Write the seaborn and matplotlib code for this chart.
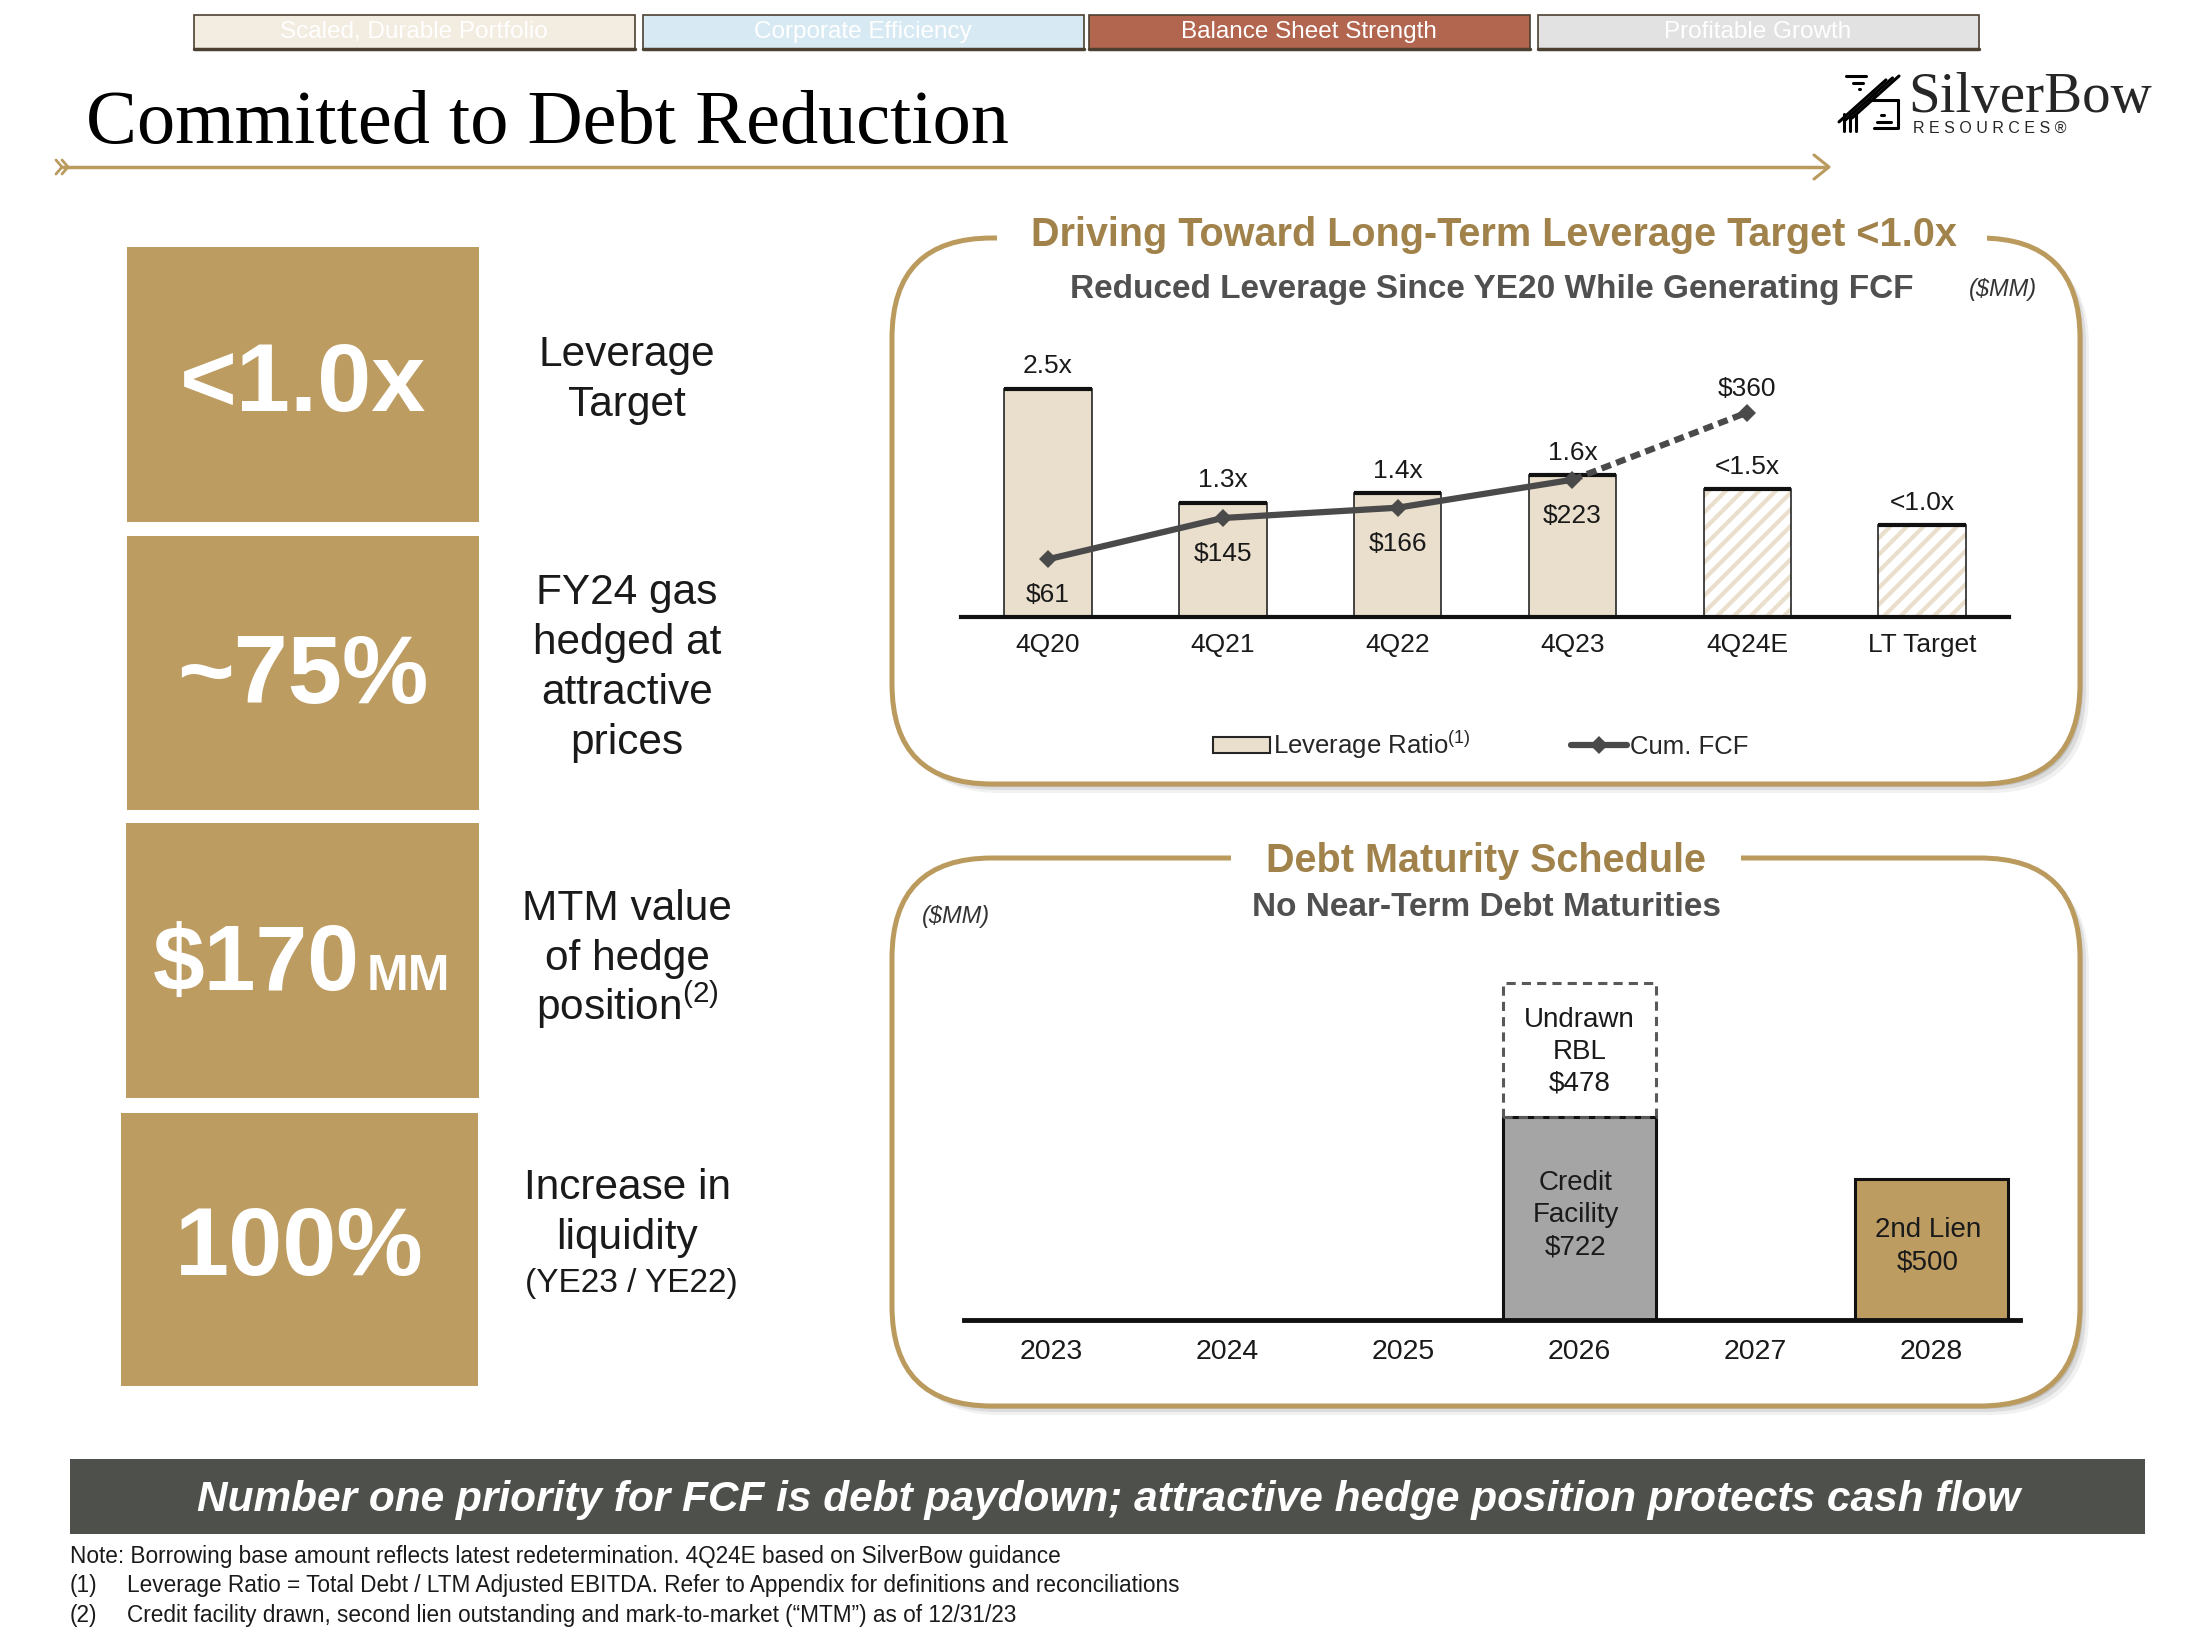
import matplotlib
matplotlib.use('Agg')
import matplotlib.pyplot as plt
from matplotlib.patches import Rectangle, FancyBboxPatch, Patch
from matplotlib.lines import Line2D
import numpy as np
import pandas as pd
import seaborn as sns

# ---- data ----
tab_names = ['Scaled, Durable Portfolio', 'Corporate Efficiency', 'Balance Sheet Strength', 'Profitable Growth']
tab_colors = ['#F3ECE1', '#D7EAF4', '#B3664F', '#E2E2E2']

stat_values = ['<1.0x', '~75%', '$170', '100%']
stat_desc = [['Leverage', 'Target'],
             ['FY24 gas', 'hedged at', 'attractive', 'prices'],
             ['MTM value', 'of hedge', 'position$^{(2)}$'],
             ['Increase in', 'liquidity']]

periods = ['4Q20', '4Q21', '4Q22', '4Q23', '4Q24E', 'LT Target']
leverage = [2.5, 1.25, 1.35, 1.55, 1.4, 1.0]
leverage_labels = ['2.5x', '1.3x', '1.4x', '1.6x', '<1.5x', '<1.0x']
is_estimate = [False, False, False, False, True, True]
cum_fcf = [61, 145, 166, 223, 360]
fcf_labels = ['$61', '$145', '$166', '$223', '$360']

years = ['2023', '2024', '2025', '2026', '2027', '2028']
drawn = [0, 0, 0, 722, 0, 500]
undrawn = [0, 0, 0, 478, 0, 0]
drawn_labels = ['', '', '', 'Credit\nFacility\n$722', '', '2nd Lien\n$500']
undrawn_labels = ['', '', '', 'Undrawn\nRBL\n$478', '', '']
drawn_colors = ['#A5A5A5', '#A5A5A5', '#A5A5A5', '#A5A5A5', '#BD9C62', '#BD9C62']

footnotes = ['Note: Borrowing base amount reflects latest redetermination. 4Q24E based on SilverBow guidance',
             'Leverage Ratio = Total Debt / LTM Adjusted EBITDA. Refer to Appendix for definitions and reconciliations',
             'Credit facility drawn, second lien outstanding and mark-to-market (\u201cMTM\u201d) as of 12/31/23']

GOLD = '#BD9C62'
GOLD_LINE = '#BB9A5E'
GOLD_TEXT = '#A0824A'
BEIGE = '#E9DFCC'
DARK = '#4A4A4A'
INK = '#1A1A1A'

sns.set_style('white')
plt.rcParams['font.family'] = ['Liberation Sans', 'DejaVu Sans']
plt.rcParams['mathtext.fontset'] = 'custom'
plt.rcParams['mathtext.rm'] = 'Liberation Sans'
plt.rcParams['mathtext.default'] = 'regular'
plt.rcParams['hatch.linewidth'] = 3.0

W, H = 2200, 1643
fig = plt.figure(figsize=(22, 16.43), dpi=100)
deco = fig.add_axes([0, 0, 1, 1], zorder=0)
deco.set_xlim(0, W)
deco.set_ylim(H, 0)
deco.axis('off')

# ---- header tabs ----
tab_x = [194, 643, 1089, 1538]
for x0, name, col in zip(tab_x, tab_names, tab_colors):
    deco.add_patch(Rectangle((x0, 15), 441, 34, fc=col, ec='#4C4030', lw=1.2))
    deco.plot([x0, x0 + 441], [49, 49], color='#4C4030', lw=2.5)
    deco.text(x0 + 220, 32, name, ha='center', va='center', color='white', fontsize=17.5)

deco.text(86, 143, 'Committed to Debt Reduction', family='Liberation Serif', fontsize=55,
          va='baseline', color='black')
deco.plot([62, 1828], [167, 167], color=GOLD_LINE, lw=2.5, solid_capstyle='butt')
deco.plot([1814, 1829, 1814], [155, 167, 179], color=GOLD_LINE, lw=2.2)
deco.plot([56, 62, 56], [160, 167, 174], color=GOLD_LINE, lw=2)
deco.plot([62, 68, 62], [160, 167, 174], color=GOLD_LINE, lw=2)

# logo
deco.text(1908, 112, 'SilverBow', family='Liberation Serif', fontsize=41, va='baseline')
deco.text(1913, 133, 'R E S O U R C E S \u00ae', fontsize=11.5, va='baseline')
for k in range(3):
    d = k * 6.5
    deco.plot([1866 - d * 0.5, 1846 + d], [76 + d, 76 + d], color='black', lw=2.2)
    deco.plot([1899 - d, 1852 - d], [76 + d * 0.3, 118 + d * 0.3], color='black', lw=2.2)
    deco.plot([1874 + d * 0.5, 1897 - d], [128 - d, 128 - d], color='black', lw=2.2)
for xv in [1844, 1850, 1856]:
    deco.plot([xv, xv], [114, 131], color='black', lw=2.2)
deco.plot([1868, 1898], [100, 100], color='black', lw=2.2)
deco.plot([1898, 1898], [100, 128], color='black', lw=2.2)

# ---- left stat boxes ----
box_rects = [(127, 247, 352, 275), (127, 536, 352, 274), (126, 823, 353, 275), (121, 1113, 357, 273)]
value_base = [411, 703, 990, 1275]
desc_base = [366, 604, 920, 1199]
for (bx, by, bw, bh), val, vb, desc, db in zip(box_rects, stat_values, value_base, stat_desc, desc_base):
    deco.add_patch(Rectangle((bx, by), bw, bh, fc=GOLD, ec='none'))
    if val == '$170':
        deco.text(360, vb, val, ha='right', va='baseline', color='white', fontsize=67, weight='bold')
        deco.text(367, vb, 'MM', ha='left', va='baseline', color='white', fontsize=36, weight='bold')
    else:
        deco.text(bx + bw / 2, vb, val, ha='center', va='baseline', color='white', fontsize=70, weight='bold')
    for i, line in enumerate(desc):
        deco.text(627, db + i * 50, line, ha='center', va='baseline', color=INK, fontsize=30.5)
deco.text(631, 1292, '(YE23 / YE22)', ha='center', va='baseline', color=INK, fontsize=24)

# ---- panels ----
for (px, py, pw, ph), (g0, g1) in zip([(892, 238, 1188, 546), (892, 858, 1188, 548)],
                                      [(997, 1987), (1231, 1741)]):
    for s, a in [(9, 0.12), (6, 0.2), (3, 0.3)]:
        deco.add_patch(FancyBboxPatch((px + s, py + s), pw, ph, boxstyle='round,pad=0,rounding_size=100',
                                      fc='#8C8C8C', ec='none', alpha=a))
    deco.add_patch(FancyBboxPatch((px, py), pw, ph, boxstyle='round,pad=0,rounding_size=100',
                                  fc='white', ec=GOLD_LINE, lw=3.6))
    deco.add_patch(Rectangle((g0, py - 10), g1 - g0, 20, fc='white', ec='none'))

deco.text(1494, 246, 'Driving Toward Long-Term Leverage Target <1.0x', ha='center', va='baseline',
          color=GOLD_TEXT, fontsize=28.5, weight='bold')
deco.text(1492, 298, 'Reduced Leverage Since YE20 While Generating FCF', ha='center', va='baseline',
          color='#505050', fontsize=24, weight='bold')
deco.text(2003, 296, '($MM)', ha='center', va='baseline', color='#333333', fontsize=17, style='italic')

deco.text(1486, 872, 'Debt Maturity Schedule', ha='center', va='baseline',
          color=GOLD_TEXT, fontsize=28.5, weight='bold')
deco.text(1486, 916, 'No Near-Term Debt Maturities', ha='center', va='baseline',
          color='#505050', fontsize=24, weight='bold')
deco.text(956, 923, '($MM)', ha='center', va='baseline', color='#333333', fontsize=17, style='italic')

# ---- leverage chart ----
ax1 = fig.add_axes([960.6 / W, 1 - 616.5 / H, 1048.8 / W, 286 / H], zorder=2)
ax1.set_facecolor('none')
lev_df = pd.DataFrame({'period': periods, 'leverage': leverage})
sns.barplot(data=lev_df, x='period', y='leverage', ax=ax1, color=BEIGE, width=0.5,
            edgecolor='#262626', linewidth=1.2, saturation=1)
xpos = np.arange(len(periods))
est = np.array(is_estimate)
lev = np.array(leverage)
for patch, e in zip(ax1.patches, is_estimate):
    if e:
        patch.set_facecolor('white')
        patch.set_edgecolor(BEIGE)
        patch.set_hatch('//')
        patch.set_linewidth(0)
ax1.bar(xpos[est], lev[est], width=0.5, fill=False, edgecolor='#262626', linewidth=1.2)
ax1.hlines(lev, xpos - 0.25, xpos + 0.25, color='#111111', lw=3)
for xi, v, lab in zip(xpos, leverage, leverage_labels):
    ax1.annotate(lab, (xi, v), xytext=(0, 11), textcoords='offset points', ha='center',
                 va='baseline', fontsize=19, color=INK)
ax1.set_xlim(-0.5, 5.5)
ax1.set_ylim(0, 3.136)
ax1.set_xlabel('')
ax1.set_ylabel('')
ax1.set_yticks([])
ax1.tick_params(axis='x', length=0, labelsize=19, pad=12, labelcolor=INK)
for side in ['top', 'left', 'right']:
    ax1.spines[side].set_visible(False)
ax1.spines['bottom'].set_linewidth(3)
ax1.spines['bottom'].set_color('#111111')

ax2 = ax1.twinx()
ax2.set_facecolor('none')
sns.lineplot(x=xpos[:4], y=cum_fcf[:4], ax=ax2, color=DARK, lw=4.5, marker='D', markersize=9,
             markeredgewidth=0)
ax2.plot(xpos[3:5], cum_fcf[3:5], color=DARK, lw=4.5, ls=(0, (1.6, 0.9)))
ax2.plot(xpos[4:5], cum_fcf[4:5], color=DARK, marker='D', markersize=9, markeredgewidth=0, ls='none')
for i, (xi, v, lab) in enumerate(zip(xpos, cum_fcf, fcf_labels)):
    off = 12 if i == len(cum_fcf) - 1 else -31
    ax2.annotate(lab, (xi, v), xytext=(0, off), textcoords='offset points', ha='center',
                 va='baseline', fontsize=19, color=INK)
ax2.set_ylim(-55.7, 527.1)
ax2.set_yticks([])
ax2.set_ylabel('')
for side in ['top', 'left', 'right', 'bottom']:
    ax2.spines[side].set_visible(False)

handles = [Patch(facecolor=BEIGE, edgecolor='#262626', linewidth=1.5),
           Line2D([0], [0], color=DARK, lw=4.5, marker='D', markersize=9, markeredgewidth=0)]
ax2.legend(handles, ['Leverage Ratio$^{(1)}$', 'Cum. FCF'], loc='center', ncol=2, frameon=False,
           bbox_to_anchor=(1481 / W, 1 - 745 / H), bbox_transform=fig.transFigure, fontsize=18.5,
           handlelength=2.2, handleheight=0.6, handletextpad=0.12, columnspacing=3.9)

# ---- debt maturity chart ----
ax3 = fig.add_axes([963.5 / W, 1 - 1320 / H, 1056 / W, 360 / H], zorder=2)
ax3.set_facecolor('none')
mat_df = pd.DataFrame({'year': years, 'drawn': drawn})
sns.barplot(data=mat_df, x='year', y='drawn', hue='year', palette=drawn_colors, legend=False,
            width=0.87, edgecolor='#111111', linewidth=2.2, saturation=1, ax=ax3)
ypos = np.arange(len(years))
dr = np.array(drawn)
ud = np.array(undrawn)
mask = ud > 0
ax3.bar(ypos[mask], ud[mask], bottom=dr[mask], width=0.87, fill=False, edgecolor='#595959',
        linestyle=(0, (3, 2)), linewidth=2.2)
for xi, d, u, dl, ul in zip(ypos, drawn, undrawn, drawn_labels, undrawn_labels):
    if d > 0:
        ax3.text(xi - 0.02, d / 2 + 12, dl, ha='center', va='center', fontsize=20, linespacing=1.3,
                 color=INK)
    if u > 0:
        ax3.text(xi, d + u / 2 - 6, ul, ha='center', va='center', fontsize=20, linespacing=1.3,
                 color=INK)
ax3.set_xlim(-0.5, 5.5)
ax3.set_ylim(0, 1280.7)
ax3.set_xlabel('')
ax3.set_ylabel('')
ax3.set_yticks([])
ax3.tick_params(axis='x', length=0, labelsize=20.5, pad=14, labelcolor=INK)
for side in ['top', 'left', 'right']:
    ax3.spines[side].set_visible(False)
ax3.spines['bottom'].set_linewidth(3.5)
ax3.spines['bottom'].set_color('#111111')

# ---- banner and footnotes ----
deco.add_patch(Rectangle((70, 1459), 2075, 75, fc='#4E504B', ec='none'))
deco.text(1109, 1511, 'Number one priority for FCF is debt paydown; attractive hedge position protects cash flow',
          ha='center', va='baseline', color='white', fontsize=30.5, weight='bold', style='italic')
deco.text(70, 1563, footnotes[0], va='baseline', fontsize=16.3, color=INK)
deco.text(70, 1592, '(1)', va='baseline', fontsize=16.3, color=INK)
deco.text(127, 1592, footnotes[1], va='baseline', fontsize=16.3, color=INK)
deco.text(70, 1622, '(2)', va='baseline', fontsize=16.3, color=INK)
deco.text(127, 1622, footnotes[2], va='baseline', fontsize=16.3, color=INK)

fig.savefig('out.png', dpi=100)
